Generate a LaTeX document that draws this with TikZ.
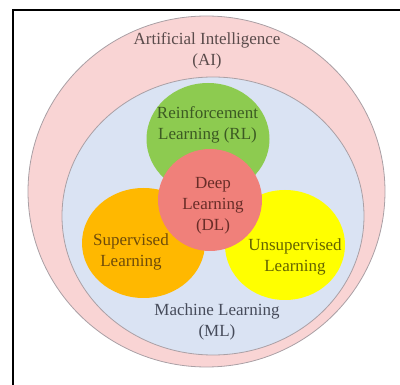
\documentclass[tikz,border=0pt]{standalone}
\usepackage{fontspec}
\setmainfont{Liberation Serif}
\usepackage{xcolor}

\definecolor{aipink}{RGB}{249,212,212}
\definecolor{mlblue}{RGB}{218,227,243}
\definecolor{rlgreen}{RGB}{141,203,80}
\definecolor{slorange}{RGB}{255,184,0}
\definecolor{uslyellow}{RGB}{255,255,0}
\definecolor{dlred}{RGB}{240,128,122}
\definecolor{ringgray}{RGB}{170,160,165}

\definecolor{aitext}{RGB}{90,75,75}
\definecolor{rltext}{RGB}{60,90,35}
\definecolor{dltext}{RGB}{105,45,40}
\definecolor{sltext}{RGB}{110,75,10}
\definecolor{usltext}{RGB}{100,100,0}
\definecolor{mltext}{RGB}{70,75,90}

\tikzset{
  areatext/.style={align=center, inner sep=0pt, font=\fontsize{17}{21}\selectfont},
  ring/.style={draw=ringgray, line width=0.8pt},
}

\begin{document}
\begin{tikzpicture}[x=1pt, y=-1pt]

\useasboundingbox (0,0) rectangle (400,385);

\draw[black, line width=2pt] (400,10)--(13,10)--(13,385);

\draw[ring, fill=aipink] (206.5,191.5) ellipse [x radius=178.5, y radius=175.5];
\draw[ring, fill=mlblue] (213,216) ellipse [x radius=151, y radius=139];

\fill[rlgreen] (208,139) ellipse [x radius=61.5, y radius=56];
\fill[slorange] (143.5,243) ellipse [x radius=61.5, y radius=55];
\fill[uslyellow] (285,245) ellipse [x radius=60, y radius=55];
\fill[dlred] (210,200) ellipse [x radius=52, y radius=51];

\node[areatext, text=aitext] (ai) at (207,51) {Artificial Intelligence\\(AI)};
\node[areatext, text=rltext] (rl) at (207.5,125) {Reinforcement\\Learning (RL)};
\node[areatext, text=dltext] (dl) at (213,206) {Deep\\Learning\\(DL)};
\node[areatext, text=sltext] (sl) at (131,252) {Supervised\\Learning};
\node[areatext, text=usltext] (usl) at (295,257) {Unsupervised\\Learning};
\node[areatext, text=mltext] (ml) at (217,322) {Machine Learning\\(ML)};

\end{tikzpicture}
\end{document}
